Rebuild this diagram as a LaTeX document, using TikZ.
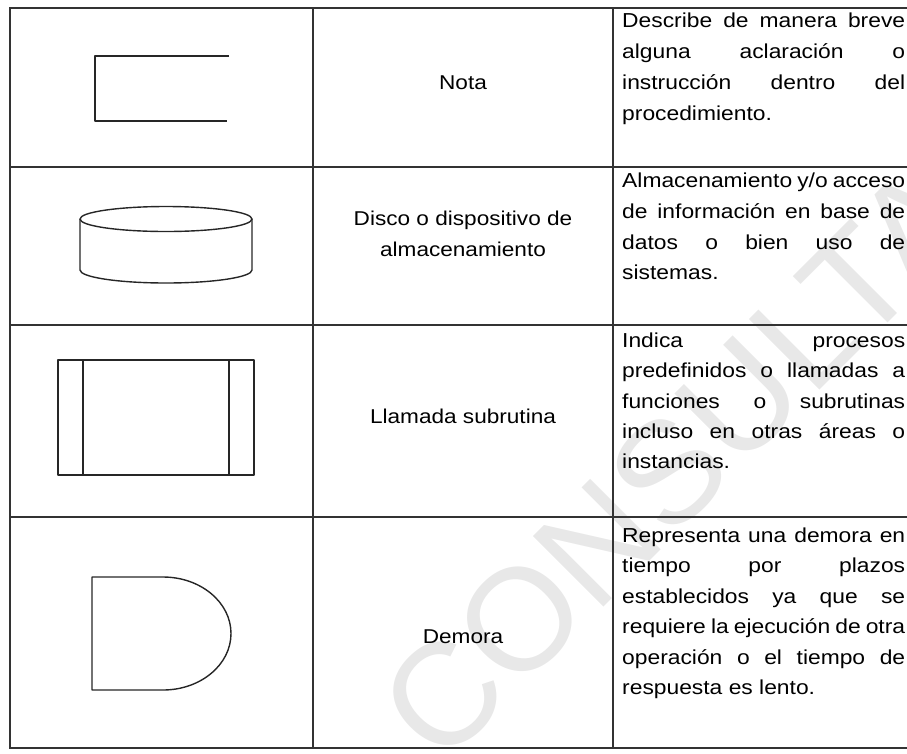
\documentclass[tikz,border=0pt]{standalone}
\usepackage{fontspec}
\setmainfont{Liberation Sans}[FakeStretch=1.13]
\newfontfamily\wmfont{Liberation Sans}
\begin{document}
\begin{tikzpicture}[x=1pt,y=-1pt,
  tl/.style={line width=1.1pt, draw=black!80},
  sh/.style={line width=1.4pt, draw=black!85, line join=round},
  lbl/.style={inner sep=0pt, anchor=base, font=\fontsize{20}{31}\selectfont},
  desc/.style={inner sep=0pt, anchor=base west, font=\fontsize{20.2}{31}\selectfont},
  wm/.style={inner sep=0pt, rotate=45, text=black!9, font=\wmfont\fontsize{145}{145}\selectfont}]
\newcommand{\jline}[3]{\node[desc] (#1) at (622,#2) {\makebox[283pt][s]{#3}};}
\newcommand{\lline}[3]{\node[desc] (#1) at (622,#2) {#3};}
\useasboundingbox (0,0) rectangle (907,753);
\begin{scope}
\clip (0,0) rectangle (907,753);
\node[wm] (wm) at (678,462) {CONSULTA};
\end{scope}
% table
\draw[tl] (907,8) -- (10,8) -- (10,748) -- (907,748);
\draw[tl] (10,167) -- (907,167);
\draw[tl] (10,325) -- (907,325);
\draw[tl] (10,517) -- (907,517);
\draw[tl] (313,8) -- (313,748);
\draw[tl] (613,8) -- (613,748);
% symbols
\draw[sh] (229,56) -- (95,56) -- (95,121) -- (227,121);
\draw[sh] (166,219) ellipse [x radius=86pt, y radius=12.5pt];
\draw[sh] (80,219) -- (80,270) .. controls (80,277.2) and (118.5,283) .. (166,283)
          .. controls (213.5,283) and (252,277.2) .. (252,270) -- (252,219);
\draw[sh] (58,360) rectangle (254,475);
\draw[sh] (83,360) -- (83,475);
\draw[sh] (229,360) -- (229,475);
\draw[sh] (92,577) -- (163,577) .. controls (200.6,577) and (231,602.3) .. (231,633.5)
          .. controls (231,664.7) and (200.6,690) .. (163,690) -- (92,690) -- cycle;
% names
\node[lbl] (n1) at (463,89) {Nota};
\node[lbl] (n2a) at (463,225) {Disco o dispositivo de};
\node[lbl] (n2b) at (463,256) {almacenamiento};
\node[lbl] (n3) at (463,423) {Llamada subrutina};
\node[lbl] (n4) at (463,643) {Demora};
% descriptions
\jline{d1a}{27}{Describe de manera breve}
\jline{d1b}{58}{alguna aclaración o}
\jline{d1c}{89}{instrucción dentro del}
\lline{d1d}{120}{procedimiento.}
\jline{d2a}{187}{Almacenamiento y/o acceso}
\jline{d2b}{218}{de información en base de}
\jline{d2c}{249}{datos o bien uso de}
\lline{d2d}{279}{sistemas.}
\jline{d3a}{347}{Indica procesos}
\jline{d3b}{377.5}{predefinidos o llamadas a}
\jline{d3c}{408}{funciones o subrutinas}
\jline{d3d}{438}{incluso en otras áreas o}
\lline{d3e}{468.5}{instancias.}
\jline{d4a}{542}{Representa una demora en}
\jline{d4b}{572.5}{tiempo por plazos}
\jline{d4c}{603}{establecidos ya que se}
\jline{d4d}{633.5}{requiere la ejecución de otra}
\jline{d4e}{664}{operación o el tiempo de}
\lline{d4f}{694.5}{respuesta es lento.}
\end{tikzpicture}
\end{document}
